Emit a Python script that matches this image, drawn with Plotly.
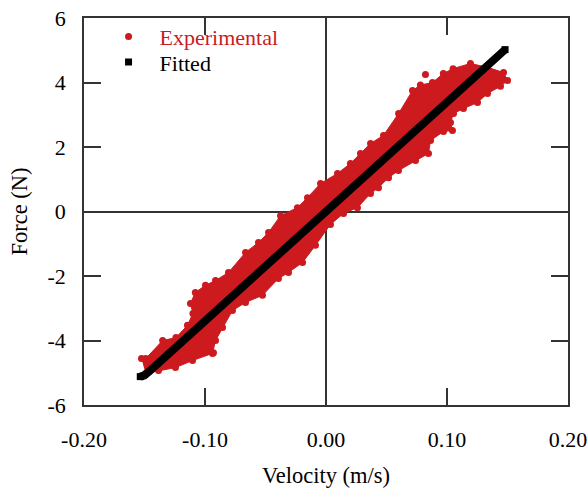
import plotly.graph_objects as go

# ---- data ----
x_tickvals = [-0.20, -0.10, 0.00, 0.10, 0.20]
x_ticktext = ["-0.20", "-0.10", "0.00", "0.10", "0.20"]
y_tickvals = [-6, -4, -2, 0, 2, 4, 6]
y_ticktext = ["-6", "-4", "-2", "0", "2", "4", "6"]

# upper edge of the experimental cloud (left -> right)
upper_v = [-0.1525, -0.149, -0.135, -0.124, -0.1145, -0.110, -0.112, -0.108, -0.0996, -0.0913,
           -0.0806, -0.0665, -0.0558, -0.0475, -0.0376, -0.0236, -0.0153, -0.0045, 0.0095,
           0.0202, 0.0285, 0.0368, 0.0475, 0.060, 0.0715, 0.0780, 0.0880, 0.097, 0.105, 0.1194,
           0.1335, 0.1467, 0.150]
upper_f = [-4.56, -4.56, -4.00, -3.91, -3.53, -3.16, -2.85, -2.51, -2.29, -2.14,
           -1.89, -1.27, -0.96, -0.65, -0.13, 0.12, 0.43, 0.87, 1.18,
           1.49, 1.80, 2.11, 2.36, 3.04, 3.75, 3.92, 4.00, 4.28, 4.43, 4.59,
           4.47, 4.31, 4.06]
# lower edge of the experimental cloud (right -> left)
lower_v = [0.1442, 0.1335, 0.1252, 0.1136, 0.1054, 0.1029, 0.1045, 0.0971, 0.0864, 0.0847,
           0.0740, 0.0599, 0.0517, 0.0434, 0.0368, 0.0260, 0.0145, 0.0037, -0.0087, -0.0194,
           -0.0310, -0.0393, -0.0525, -0.0665, -0.0773, -0.0855, -0.0913, -0.0938, -0.1103,
           -0.1244, -0.1384, -0.1492]
lower_f = [3.88, 3.66, 3.38, 3.19, 3.04, 2.76, 2.51, 2.48, 2.20, 1.80,
           1.58, 1.27, 1.05, 0.74, 0.56, 0.12, -0.06, -0.40, -1.05, -1.58,
           -1.89, -2.08, -2.60, -2.82, -3.07, -3.60, -4.00, -4.40, -4.62,
           -4.84, -4.93, -5.02]
# isolated experimental points
outlier_v = [0.0822, -0.0930, -0.1420]
outlier_f = [4.25, -4.38, -4.60]

# fitted curve
fit_v = [-0.1535, -0.150, -0.145, -0.100, -0.050, 0.000, 0.050, 0.100, 0.145, 0.148]
fit_f = [-5.12, -5.08, -4.92, -3.40, -1.70, 0.00, 1.69, 3.38, 4.92, 5.02]

RED = "#cc1a1f"
FONT = "Liberation Serif, Times New Roman, serif"

fig = go.Figure()

# filled body of the cloud
fig.add_trace(go.Scatter(
    x=upper_v + lower_v, y=upper_f + lower_f,
    mode="lines", fill="toself", fillcolor=RED,
    line=dict(color=RED, width=1), showlegend=False, hoverinfo="skip"))

# experimental points
fig.add_trace(go.Scatter(
    x=upper_v + lower_v + outlier_v, y=upper_f + lower_f + outlier_f,
    mode="markers", name='<span style="color:%s">Experimental</span>' % RED,
    legend="legend",
    marker=dict(color=RED, size=7, symbol="circle")))

# fitted line body
fig.add_trace(go.Scatter(
    x=fit_v, y=fit_f, mode="lines", line=dict(color="black", width=8),
    showlegend=False, hoverinfo="skip"))
fig.add_trace(go.Scatter(
    x=[fit_v[0], fit_v[-1]], y=[fit_f[0], fit_f[-1]], mode="markers", name="Fitted",
    legend="legend2",
    marker=dict(color="black", size=7, symbol="square")))

axis_common = dict(
    showline=True, linecolor="#333", linewidth=1.5, mirror="ticks",
    ticks="inside", ticklen=17, tickwidth=1.5, tickcolor="#333",
    showgrid=False, zeroline=True, zerolinecolor="#333", zerolinewidth=1.5,
    automargin=False,
    tickfont=dict(family=FONT, size=22, color="black"))

fig.update_xaxes(range=[-0.20, 0.20], tickvals=x_tickvals, ticktext=x_ticktext,
                 ticklabelstandoff=14,
                 title=dict(text="Velocity (m/s)", font=dict(family=FONT, size=22.5, color="black"),
                            standoff=20),
                 **axis_common)
fig.update_yaxes(range=[-6, 6], tickvals=y_tickvals, ticktext=y_ticktext,
                 ticklabelstandoff=12,
                 title=dict(text="Force (N)", font=dict(family=FONT, size=22.5, color="black"),
                            standoff=14),
                 **axis_common)

leg = dict(xanchor="left", yanchor="middle", itemwidth=52,
           bgcolor="rgba(0,0,0,0)", font=dict(family=FONT, size=22))
fig.update_layout(
    width=588, height=488,
    margin=dict(l=84, r=20, t=18, b=83),
    plot_bgcolor="white", paper_bgcolor="white",
    font=dict(family=FONT, size=22, color="black"),
    legend=dict(x=0.028, y=0.952, **leg),
    legend2=dict(x=0.028, y=0.886, **leg),
)

fig.write_html("out.html")
